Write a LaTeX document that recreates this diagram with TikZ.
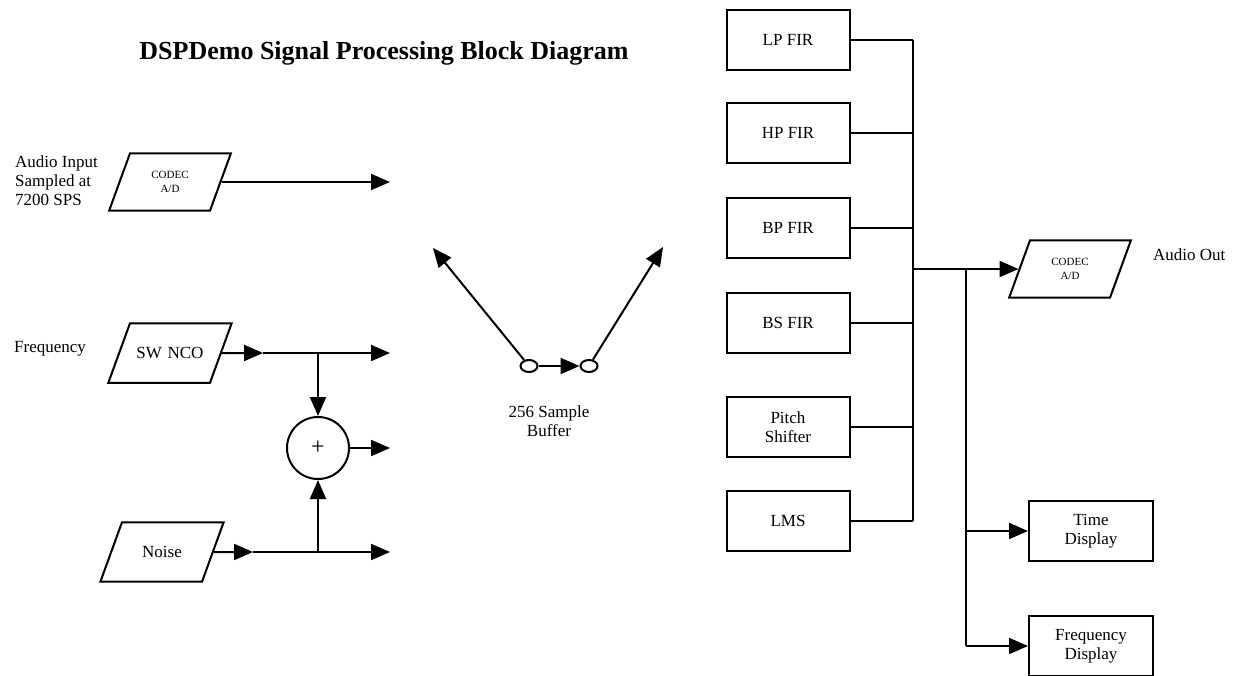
\documentclass[tikz,border=0pt]{standalone}
\usepackage{fontspec}
\setmainfont{Liberation Serif}
\usepackage{tikz}
\usetikzlibrary{shapes.geometric,arrows.meta}
\newcommand*\blk{\fontsize{17}{19}\selectfont}
\newcommand*\tinyblk{\fontsize{11}{14}\selectfont}
\tikzset{
  wire/.style={line width=2pt},
  arr/.style={wire,-{Triangle[length=19pt,width=16pt]}},
  filt/.style={draw,wire,rectangle,minimum width=123pt,minimum height=60pt,align=center,inner sep=0pt,font=\blk},
  io/.style={draw,wire,trapezium,trapezium left angle=70,trapezium right angle=110,trapezium stretches=false,text width=80pt,align=center,inner xsep=0pt,inner ysep=24pt,font=\blk},
  codec/.style={io,inner ysep=18pt,font=\tinyblk},
  lbl/.style={align=left,inner sep=0pt,font=\blk}
}
\begin{document}
\begin{tikzpicture}[x=1pt,y=-1pt]
\useasboundingbox (0,0) rectangle (1233,675);
%-------->title<--------------
\node (title) at (384,53) {\fontsize{26}{30}\selectfont\bfseries DSPDemo Signal Processing Block Diagram};
%-------->left side nodes<--------------
\node[lbl,anchor=west] (inlbl) at (15,181) {Audio Input\\Sampled at\\7200 SPS};
\node[codec] (codecin) at (170,182) {CODEC\\A/D};
\node[lbl,anchor=west] (freqlbl) at (14,349) {Frequency};
\node[io] (nco) at (170,353) {SW NCO};
\node[io] (noise) at (162,552) {Noise};
\node[draw,wire,circle,minimum size=62pt,inner sep=0pt,font=\fontsize{24}{26}\selectfont] (sum) at (318,448) {+};
\coordinate (out1) at (390,182);
\coordinate (out2) at (390,353);
\coordinate (out3) at (390,448);
\coordinate (out4) at (390,552);
\coordinate (midA) at (263,353);
\coordinate (midB) at (253,552);
\coordinate (jA) at (318,353);
\coordinate (jB) at (318,552);
%-------->buffer<--------------
\node[draw,wire,ellipse,minimum width=17pt,minimum height=12pt,inner sep=0pt] (bufA) at (529,366) {};
\node[draw,wire,ellipse,minimum width=17pt,minimum height=12pt,inner sep=0pt] (bufB) at (589,366) {};
\coordinate (tipL) at (433,248);
\coordinate (tipR) at (663,247);
\node[align=center,inner sep=0pt,font=\blk] (buflbl) at (549,421) {256 Sample\\Buffer};
%-------->filters<--------------
\node[filt] (lp) at (788,40) {LP FIR};
\node[filt] (hp) at (788,133) {HP FIR};
\node[filt] (bp) at (788,228) {BP FIR};
\node[filt] (bs) at (788,323) {BS FIR};
\node[filt] (pitch) at (788,427) {Pitch\\Shifter};
\node[filt] (lms) at (788,521) {LMS};
\coordinate (bus) at (913,0);
\coordinate (br) at (966,0);
%-------->right side nodes<--------------
\node[codec] (codecout) at (1070,269) {CODEC\\A/D};
\node[lbl,anchor=west] (outlbl) at (1153,255) {Audio Out};
\node[filt,minimum width=124pt] (tdisp) at (1091,531) {Time\\Display};
\node[filt,minimum width=124pt] (fdisp) at (1091,646) {Frequency\\Display};
%------------->left arrows<------------------
\draw[arr] (codecin.east) -- (out1);
\draw[arr] (nco.east) -- (midA);
\draw[arr] (midA) -- (out2);
\draw[arr] (noise.east) -- (midB);
\draw[arr] (midB) -- (out4);
\draw[arr] (jA) -- (sum.north);
\draw[arr] (jB) -- (sum.south);
\draw[arr] (sum.east) -- (out3);
%------------->buffer arrows<------------------
\draw[arr] (bufA) -- (bufB);
\draw[arr] (bufA) -- (tipL);
\draw[arr] (bufB) -- (tipR);
%------------->bus<------------------
\foreach \f in {lp,hp,bp,bs,pitch,lms}
  \draw[wire] (\f.east) -- (\f.east -| bus);
\draw[wire] (lp.east -| bus) -- (lms.east -| bus);
\draw[arr] (bus |- codecout) -- (codecout.west);
\draw[wire] (br |- codecout) -- (br |- fdisp);
\draw[arr] (br |- tdisp) -- (tdisp.west);
\draw[arr] (br |- fdisp) -- (fdisp.west);
\end{tikzpicture}
\end{document}
